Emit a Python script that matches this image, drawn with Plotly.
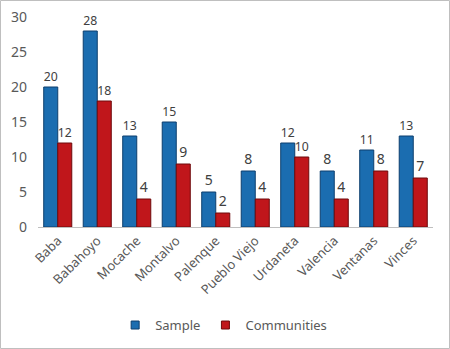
import plotly.graph_objects as go

categories = ["Baba", "Babahoyo", "Mocache", "Montalvo", "Palenque",
              "Pueblo Viejo", "Urdaneta", "Valencia", "Ventanas", "Vinces"]
sample = [20, 28, 13, 15, 5, 8, 12, 8, 11, 13]
communities = [12, 18, 4, 9, 2, 4, 10, 4, 8, 7]
y_ticks = [0, 5, 10, 15, 20, 25, 30]

FONT = "Noto Sans"
W, H = 450, 349
L, R, T, B = 38, 17, 17, 122
pw, ph = W - L - R, H - T - B

series = [("Sample", sample, "#1b6db0", "#0d3f6e"),
          ("Communities", communities, "#c0161b", "#6e0a0c")]

fig = go.Figure()
for name, vals, col, edge in series:
    fig.add_trace(go.Bar(
        x=categories, y=vals, name=name, showlegend=False,
        marker=dict(color=col, line=dict(color=edge, width=1)),
        text=vals, textposition="outside", cliponaxis=False,
        textfont=dict(size=14, color="#404040", family=FONT),
    ))
for name, vals, col, edge in series:
    fig.add_trace(go.Scatter(
        x=[None], y=[None], mode="markers", name=name, showlegend=True,
        marker=dict(symbol="square", size=8, color=col, line=dict(color=edge, width=1)),
    ))

fig.update_layout(
    width=W, height=H,
    margin=dict(l=L, r=R, t=T, b=B, autoexpand=False),
    paper_bgcolor="white", plot_bgcolor="white",
    barmode="group", bargap=0.29, bargroupgap=0,
    font=dict(family=FONT, color="#595959", size=13),
    showlegend=True,
    legend=dict(orientation="h", x=0.47, xanchor="center", y=-0.467, yanchor="middle",
                font=dict(size=13, color="#595959"), itemwidth=30,
                tracegroupgap=0, traceorder="normal"),
    xaxis=dict(tickangle=-45, showline=True, linecolor="#bfbfbf", linewidth=1,
               automargin=False,
               ticks="", tickfont=dict(size=13, color="#595959"), showgrid=False),
    yaxis=dict(range=[0, 30], tickvals=y_ticks, showgrid=False, zeroline=False,
               automargin=False,
               showline=False, ticks="", tickfont=dict(size=14, color="#595959"),
               ticklabelstandoff=10),
)
fig.add_shape(type="rect", xref="paper", yref="paper",
              x0=-(L - 0.5) / pw, x1=1 + (R - 0.5) / pw,
              y0=-(B - 0.5) / ph, y1=1 + (T - 0.5) / ph,
              line=dict(color="#bfbfbf", width=1), layer="below")

fig.write_html("out.html", config={"displayModeBar": False},
               post_script="document.body.style.margin='0';document.body.style.overflow='hidden';")
